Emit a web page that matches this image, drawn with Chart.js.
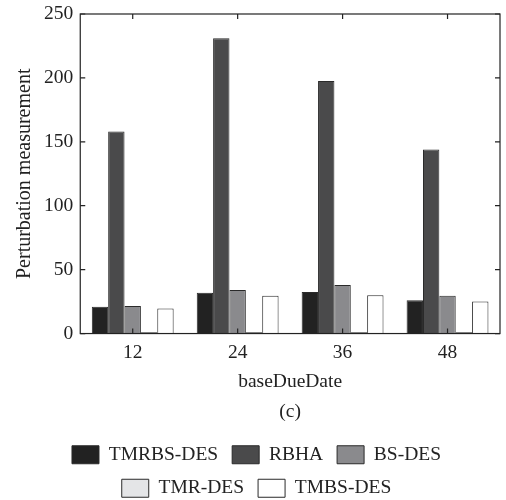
<!DOCTYPE html>
<html><head><meta charset="utf-8">
<script src="https://cdn.jsdelivr.net/npm/chart.js@4/dist/chart.umd.min.js"></script>
<style>html,body{margin:0;padding:0;background:#fff}#wrap{width:506px;height:500px}</style>
</head><body><div id="wrap"><canvas id="c"></canvas></div>
<script>
const categories = ['12','24','36','48'];
const TMRBS_DES = [21, 32, 32.5, 26];
const RBHA = [158, 231, 197.5, 144];
const BS_DES = [21.5, 34, 38, 29.5];
const TMR_DES = [1, 1, 1, 1];
const TMBS_DES = [19.5, 29.5, 30, 25];
const yTicks = [0, 50, 100, 150, 200, 250];

const font = 'Liberation Serif';
const FS = 19.5;
const boxPlugin = {
  id: 'boxTicks',
  afterDatasetsDraw(chart) {
    const {ctx, chartArea: a, scales} = chart;
    ctx.save();
    ctx.strokeStyle = '#222';
    ctx.lineWidth = 1.2;
    ctx.strokeRect(a.left, a.top, a.right - a.left, a.bottom - a.top);
    const L = 5;
    yTicks.forEach(v => {
      const y = scales.y.getPixelForValue(v);
      ctx.beginPath();
      ctx.moveTo(a.left, y); ctx.lineTo(a.left + L, y);
      ctx.moveTo(a.right, y); ctx.lineTo(a.right - L, y);
      ctx.stroke();
    });
    categories.forEach((c, i) => {
      const x = scales.x.getPixelForValue(i);
      ctx.beginPath();
      ctx.moveTo(x, a.top); ctx.lineTo(x, a.top + L);
      ctx.moveTo(x, a.bottom); ctx.lineTo(x, a.bottom - L);
      ctx.stroke();
    });
    ctx.restore();
  }
};

const mk = (label, data, color) => ({label, data, backgroundColor: color, borderColor: '#2a2a2a', borderWidth: 1});
new Chart(document.getElementById('c'), {
  type: 'bar',
  data: {
    labels: categories,
    datasets: [
      mk('TMRBS-DES', TMRBS_DES, '#222222'),
      mk('RBHA', RBHA, '#4a4a4b'),
      mk('BS-DES', BS_DES, '#8a8a8d'),
      mk('TMR-DES', TMR_DES, '#e4e5e7'),
      mk('TMBS-DES', TMBS_DES, '#ffffff')
    ]
  },
  options: {
    responsive: true, maintainAspectRatio: false, animation: false,
    layout: {padding: {top: 0, right: 6, left: 13, bottom: -8}},
    datasets: {bar: {barPercentage: 1, categoryPercentage: 0.78}},
    plugins: {
      tooltip: {enabled: false},
      legend: {
        position: 'bottom',
        labels: {color: '#222', font: {family: font, size: FS}, boxWidth: 27, boxHeight: 18, padding: 14}
      }
    },
    scales: {
      x: {
        grid: {display: false, drawTicks: false},
        border: {display: false},
        ticks: {color: '#222', font: {family: font, size: FS}, padding: 8},
        title: {display: true, text: ['baseDueDate', '(c)'], color: '#222', font: {family: font, size: FS, lineHeight: 1.54}, padding: {top: -6, bottom: 4}}
      },
      y: {
        min: 0, max: 250,
        afterBuildTicks: s => { s.ticks = yTicks.map(v => ({value: v})); },
        afterFit: s => { s.paddingTop = 14; },
        grid: {display: false, drawTicks: false},
        border: {display: false},
        ticks: {color: '#222', font: {family: font, size: FS}, padding: 7},
        title: {display: true, text: 'Perturbation measurement', color: '#222', font: {family: font, size: 20}, padding: {top: 0, bottom: 0}}
      }
    }
  },
  plugins: [boxPlugin]
});
</script></body></html>
